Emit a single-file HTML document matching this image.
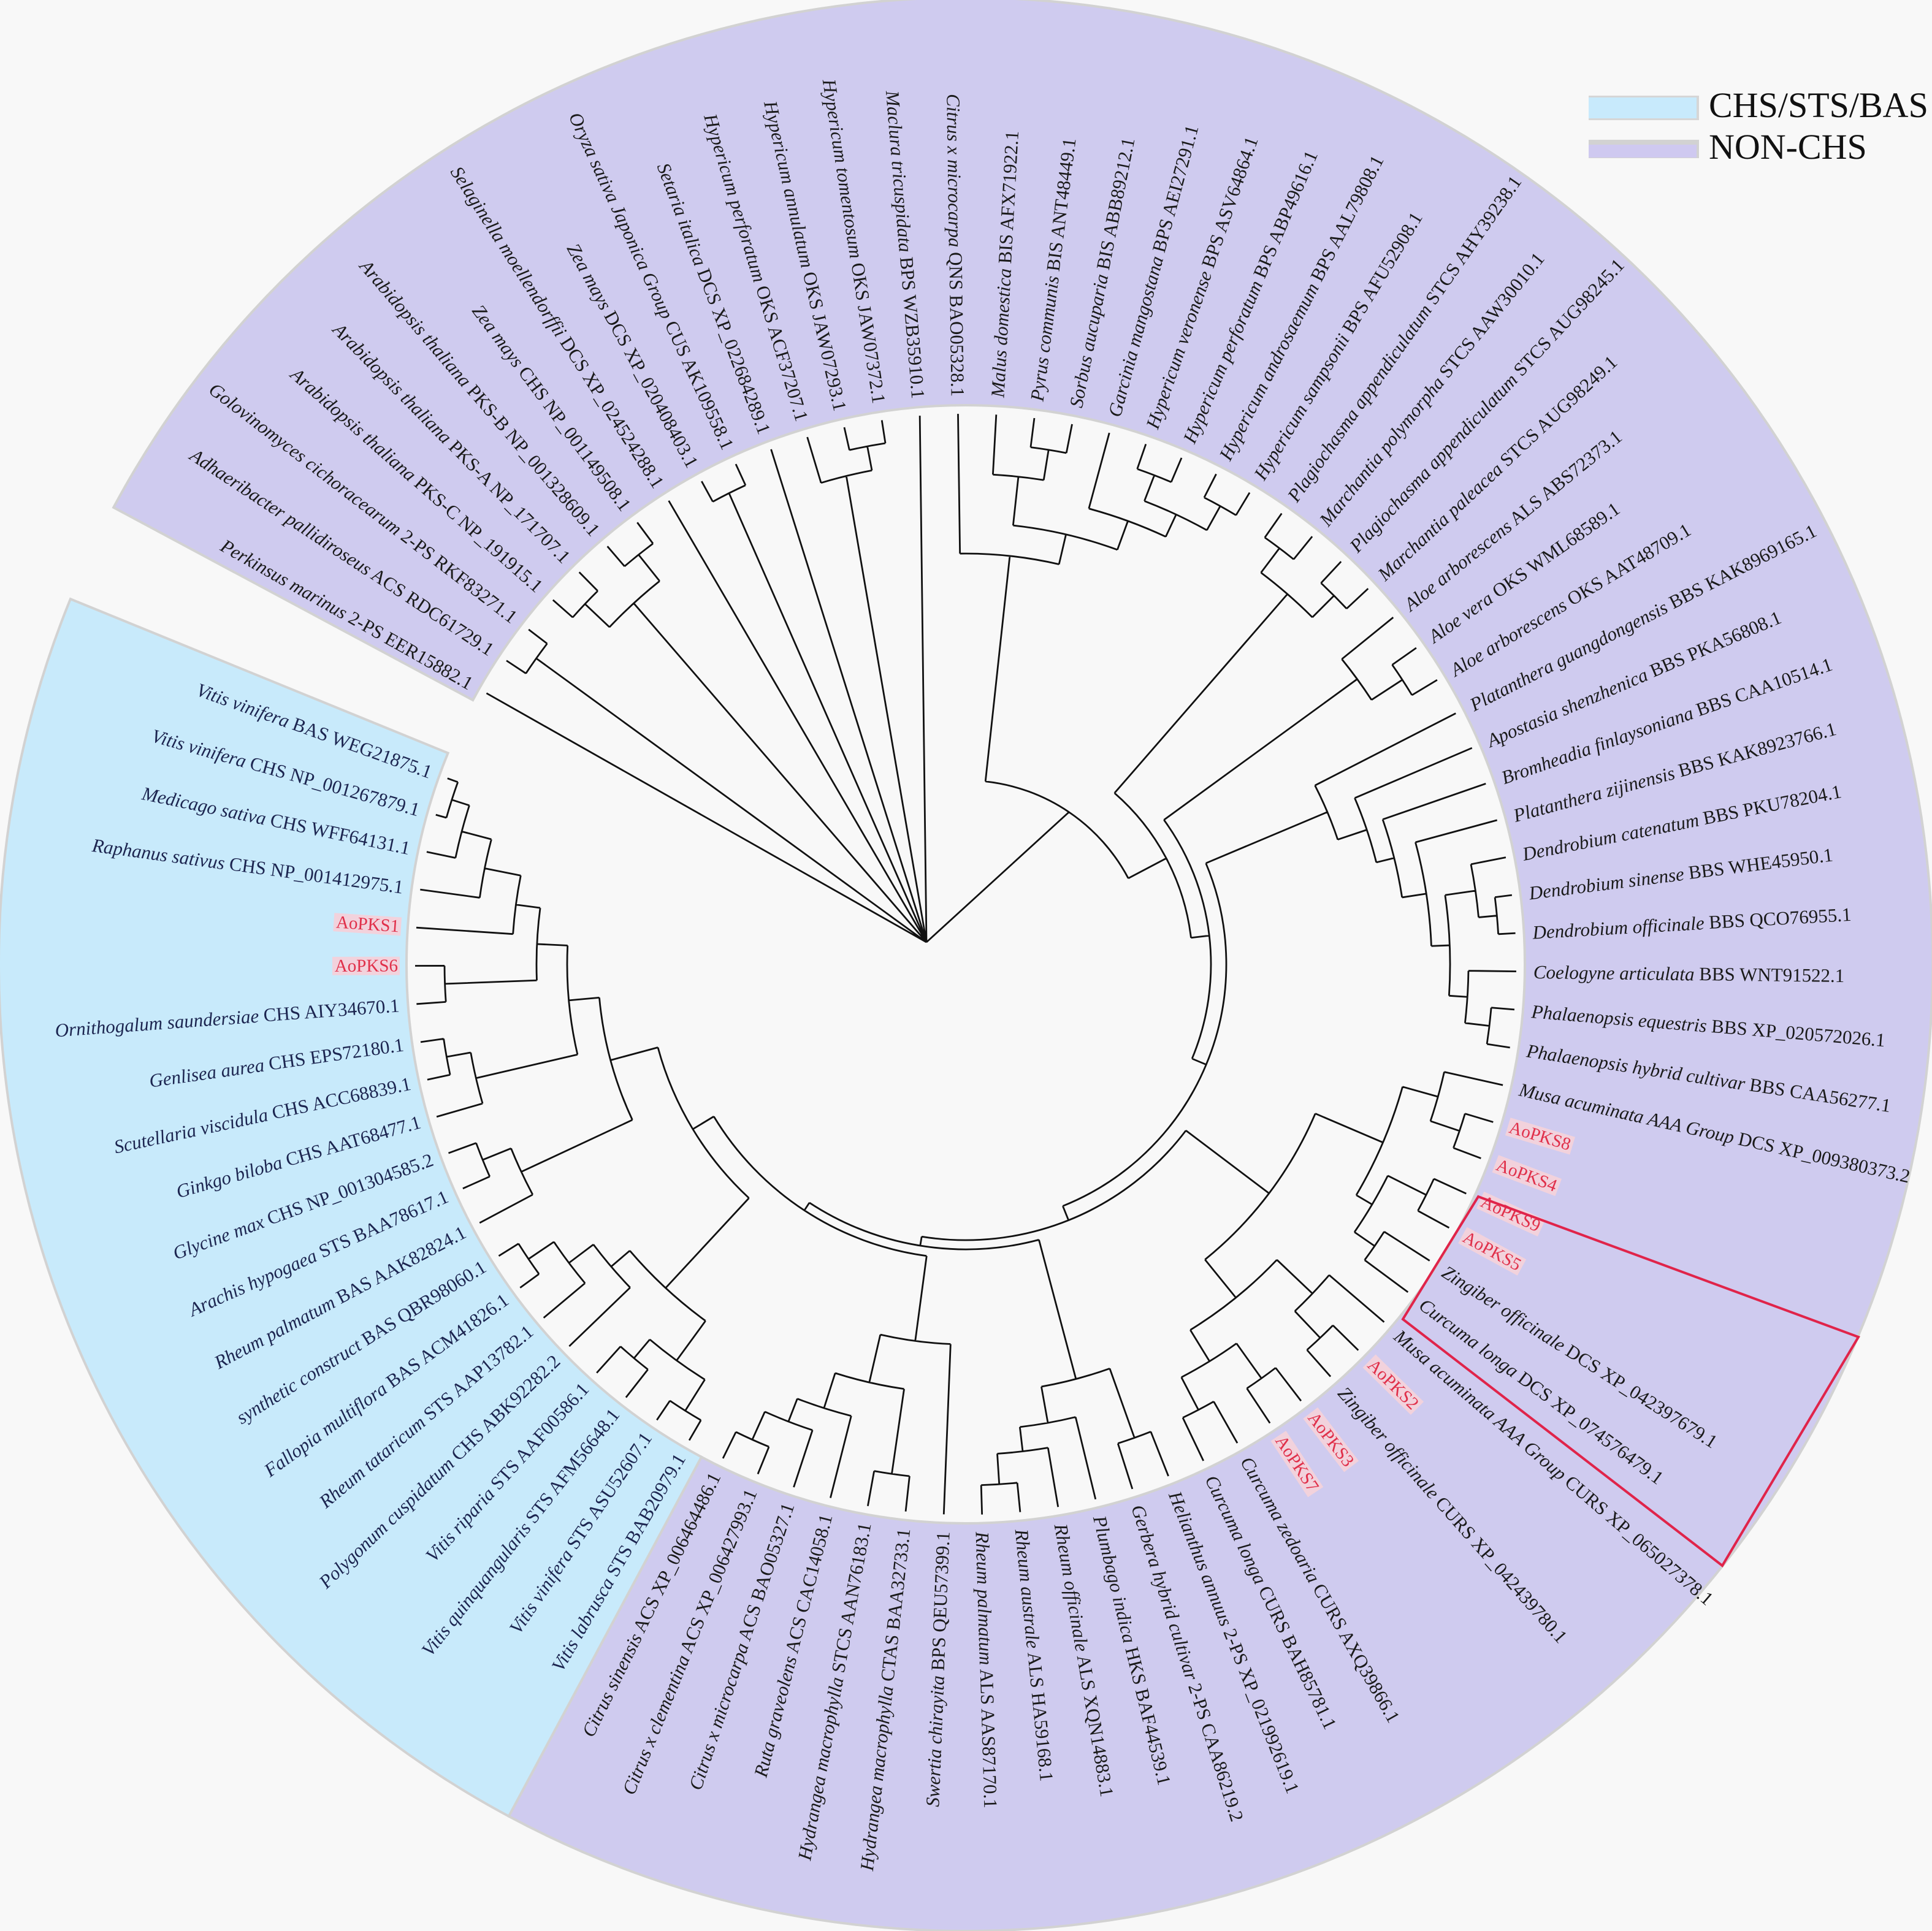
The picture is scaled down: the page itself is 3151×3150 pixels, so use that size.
<!DOCTYPE html>
<html><head><meta charset="utf-8">
<style>
html,body{margin:0;padding:0;background:#f8f8f8;}
svg{display:block;}
text{font-family:"Liberation Serif",serif;}
</style></head>
<body>
<svg id="s" width="3151" height="3150" viewBox="0 0 3151 3150" xmlns="http://www.w3.org/2000/svg">
<rect width="3151" height="3150" fill="#f8f8f8"/>
<g id="ring"></g>
<g id="tree" fill="none" stroke="#111" stroke-width="2.8"></g>
<g id="labels"></g>
<polygon points="2411,1952 3031,2181 2809,2554 2288,2152" fill="none" stroke="#e0244a" stroke-width="4"/>
<rect x="2591" y="156" width="180" height="40" fill="#d6d6d6"/>
<rect x="2591" y="159" width="176" height="34" fill="#c8eafc"/>
<text x="2787" y="191" font-size="58" fill="#111">CHS/STS/BAS</text>
<rect x="2591" y="228" width="180" height="30" fill="#d2d2d2"/>
<rect x="2591" y="236" width="176" height="21" fill="#cfc9f0"/>
<text x="2787" y="259" font-size="58" fill="#111">NON-CHS</text>
</svg>
<script>
var CX=1575,CY=1573,RT=898,RL=926,RIN=912,ROUT=1577;
var P0=[1511,1537];
function rad(a){return a*Math.PI/180;}
function pt(r,a){return [CX+r*Math.cos(rad(a)),CY-r*Math.sin(rad(a))];}
function la(i){return 150.5-3.98*i;}
function sector(a1,a2,fill){
 var p1=pt(ROUT,a1),p2=pt(ROUT,a2),p3=pt(RIN,a2),p4=pt(RIN,a1);
 var lg=(a1-a2)>180?1:0;
 return '<path d="M'+p1[0]+' '+p1[1]+' A'+ROUT+' '+ROUT+' 0 '+lg+' 1 '+p2[0]+' '+p2[1]+' L'+p3[0]+' '+p3[1]+' A'+RIN+' '+RIN+' 0 '+lg+' 0 '+p4[0]+' '+p4[1]+' Z" fill="'+fill+'" stroke="#d2d2d2" stroke-width="4"/>';
}
document.getElementById('ring').innerHTML=sector(151.8,-118.2,'#cfcbef')+sector(241.8,157.8,'#c8eafb');

function L(i){return {leaf:i,r:RT,a:la(i)};}
function N(r){var c=[].slice.call(arguments,1);return {r:r,c:c,a:(c[0].a+c[c.length-1].a)/2};}

var BLUE=N(520,
  N(720,N(800,N(860,L(68),L(69)),N(840,L(70),L(71))),N(760,L(72),N(810,L(73),N(860,L(74),L(75))))),
  N(600,N(800,L(76),N(850,L(77),L(78))),
    N(650,N(820,L(79),N(860,L(80),L(81))),
      N(700,N(850,L(82),L(83)),N(740,L(84),N(800,L(85),N(850,L(86),N(880,L(87),L(88)))))))));
var C9=N(480,N(620,L(61),N(700,N(840,L(62),L(63)),N(760,L(64),N(800,L(65),N(850,L(66),L(67)))))),BLUE);
var C8=N(465,N(700,N(820,L(55),L(56)),N(760,L(57),N(800,L(58),N(850,L(59),L(60))))),C9);
var C7=N(450,N(620,N(740,N(800,L(41),N(850,L(42),L(43))),N(770,N(840,L(44),L(45)),N(810,L(46),L(47)))),
   N(700,N(780,L(48),N(840,L(49),L(50))),N(760,N(830,L(51),L(52)),N(820,L(53),L(54))))),C8);
var C6=N(425,N(640,L(31),N(690,L(32),N(720,L(33),N(760,L(34),N(790,N(840,L(35),N(870,L(36),L(37))),N(820,L(38),N(860,L(39),L(40)))))))),C7);
var C5=N(400,N(790,L(28),N(850,L(29),L(30))),C6);
var C2=N(370,N(800,N(850,L(24),L(25)),N(850,L(26),L(27))),C5);
var C1=N(670,L(15),N(720,N(800,L(16),N(850,L(17),L(18))),N(770,L(19),N(810,N(855,L(20),L(21)),N(855,L(22),L(23))))));
var B=N(300,C1,C2);
var rootKids=[L(0),N(860,L(1),L(2)),N(800,N(855,L(3),L(4)),N(855,L(5),L(6))),L(7),N(860,L(8),L(9)),L(10),N(820,L(11),N(860,L(12),L(13))),L(14),B];

var d='';
function drawNode(n){
 if(!n.c)return;
 var a1=n.c[0].a,a2=n.c[n.c.length-1].a;
 var p1=pt(n.r,a1),p2=pt(n.r,a2);
 d+='M'+p1[0]+' '+p1[1]+' A'+n.r+' '+n.r+' 0 '+((a1-a2)>180?1:0)+' 1 '+p2[0]+' '+p2[1]+' ';
 n.c.forEach(function(ch){
  var q1=pt(n.r,ch.a),q2=pt(ch.r,ch.a);
  d+='M'+q1[0]+' '+q1[1]+' L'+q2[0]+' '+q2[1]+' ';
  drawNode(ch);
 });
}
rootKids.forEach(function(ch){
 var q=pt(ch.r,ch.a);
 d+='M'+P0[0]+' '+P0[1]+' L'+q[0]+' '+q[1]+' ';
 drawNode(ch);
});
document.getElementById('tree').innerHTML='<path d="'+d+'"/>';

var labs=[
["Perkinsus marinus","2-PS EER15882.1"],
["Adhaeribacter pallidiroseus","ACS RDC61729.1"],
["Golovinomyces cichoracearum","2-PS RKF83271.1"],
["Arabidopsis thaliana","PKS-C NP_191915.1"],
["Arabidopsis thaliana","PKS-A NP_171707.1"],
["Arabidopsis thaliana","PKS-B NP_001328609.1"],
["Zea mays","CHS NP_001149508.1"],
["Selaginella moellendorffii","DCS XP_024524288.1"],
["Zea mays","DCS XP_020408403.1"],
["Oryza sativa Japonica Group","CUS AK109558.1"],
["Setaria italica","DCS XP_022684289.1"],
["Hypericum perforatum","OKS ACF37207.1"],
["Hypericum annulatum","OKS JAW07293.1"],
["Hypericum tomentosum","OKS JAW07372.1"],
["Maclura tricuspidata","BPS WZB35910.1"],
["Citrus x microcarpa","QNS BAO05328.1"],
["Malus domestica","BIS AFX71922.1"],
["Pyrus communis","BIS ANT48449.1"],
["Sorbus aucuparia","BIS ABB89212.1"],
["Garcinia mangostana","BPS AEI27291.1"],
["Hypericum veronense","BPS ASV64864.1"],
["Hypericum perforatum","BPS ABP49616.1"],
["Hypericum androsaemum","BPS AAL79808.1"],
["Hypericum sampsonii","BPS AFU52908.1"],
["Plagiochasma appendiculatum","STCS AHY39238.1"],
["Marchantia polymorpha","STCS AAW30010.1"],
["Plagiochasma appendiculatum","STCS AUG98245.1"],
["Marchantia paleacea","STCS AUG98249.1"],
["Aloe arborescens","ALS ABS72373.1"],
["Aloe vera","OKS WML68589.1"],
["Aloe arborescens","OKS AAT48709.1"],
["Platanthera guangdongensis","BBS KAK8969165.1"],
["Apostasia shenzhenica","BBS PKA56808.1"],
["Bromheadia finlaysoniana","BBS CAA10514.1"],
["Platanthera zijinensis","BBS KAK8923766.1"],
["Dendrobium catenatum","BBS PKU78204.1"],
["Dendrobium sinense","BBS WHE45950.1"],
["Dendrobium officinale","BBS QCO76955.1"],
["Coelogyne articulata","BBS WNT91522.1"],
["Phalaenopsis equestris","BBS XP_020572026.1"],
["Phalaenopsis hybrid cultivar","BBS CAA56277.1"],
["Musa acuminata AAA Group","DCS XP_009380373.2"],
"AoPKS8","AoPKS4","AoPKS9","AoPKS5",
["Zingiber officinale","DCS XP_042397679.1"],
["Curcuma longa","DCS XP_074576479.1"],
["Musa acuminata AAA Group","CURS XP_065027378.1"],
"AoPKS2",
["Zingiber officinale","CURS XP_042439780.1"],
"AoPKS3","AoPKS7",
["Curcuma zedoaria","CURS AXQ39866.1"],
["Curcuma longa","CURS BAH85781.1"],
["Helianthus annuus","2-PS XP_021992619.1"],
["Gerbera hybrid cultivar","2-PS CAA86219.2"],
["Plumbago indica","HKS BAF44539.1"],
["Rheum officinale","ALS XQN14883.1"],
["Rheum australe","ALS HA59168.1"],
["Rheum palmatum","ALS AAS87170.1"],
["Swertia chirayita","BPS QEU57399.1"],
["Hydrangea macrophylla","CTAS BAA32733.1"],
["Hydrangea macrophylla","STCS AAN76183.1"],
["Ruta graveolens","ACS CAC14058.1"],
["Citrus x microcarpa","ACS BAO05327.1"],
["Citrus x clementina","ACS XP_006427993.1"],
["Citrus sinensis","ACS XP_006464486.1"],
["Vitis labrusca","STS BAB20979.1"],
["Vitis vinifera","STS ASU52607.1"],
["Vitis quinquangularis","STS AFM56648.1"],
["Vitis riparia","STS AAF00586.1"],
["Polygonum cuspidatum","CHS ABK92282.2"],
["Rheum tataricum","STS AAP13782.1"],
["Fallopia multiflora","BAS  ACM41826.1"],
["synthetic construct","BAS QBR98060.1"],
["Rheum palmatum","BAS AAK82824.1"],
["Arachis hypogaea","STS BAA78617.1"],
["Glycine max","CHS NP_001304585.2"],
["Ginkgo biloba","CHS AAT68477.1"],
["Scutellaria viscidula","CHS ACC68839.1"],
["Genlisea aurea","CHS EPS72180.1"],
["Ornithogalum saundersiae","CHS AIY34670.1"],
"AoPKS6","AoPKS1",
["Raphanus sativus","CHS NP_001412975.1"],
["Medicago sativa","CHS WFF64131.1"],
["Vitis vinifera","CHS NP_001267879.1"],
["Vitis vinifera","BAS WEG21875.1"]
];
var h='';
labs.forEach(function(lb,i){
 var a=la(i);var an=((a%360)+540)%360-180;
 var right=(an>-90&&an<90);
 var p=pt(RL,a);
 var rot=right?-a:180-a;
 var anchor=right?'start':'end';
 var col=(i>=68)?'#1c2550':'#1a1a1a';
 var tr='translate('+p[0].toFixed(1)+','+p[1].toFixed(1)+') rotate('+rot.toFixed(2)+')';
 if(typeof lb==='string'){
  var w=110;var x0=right?-3:-w+3;
  h+='<g transform="'+tr+'"><rect x="'+x0+'" y="-15" width="'+w+'" height="30" fill="#f2d2dc"/><text x="0" y="0" dominant-baseline="central" text-anchor="'+anchor+'" font-size="29" fill="#e0304a">'+lb+'</text></g>';
 } else {
  h+='<text transform="'+tr+'" x="0" y="0" dominant-baseline="central" text-anchor="'+anchor+'" font-size="31" fill="'+col+'"><tspan font-style="italic">'+lb[0]+'</tspan> '+lb[1]+'</text>';
 }
});
document.getElementById('labels').innerHTML=h;
</script>
</body></html>
